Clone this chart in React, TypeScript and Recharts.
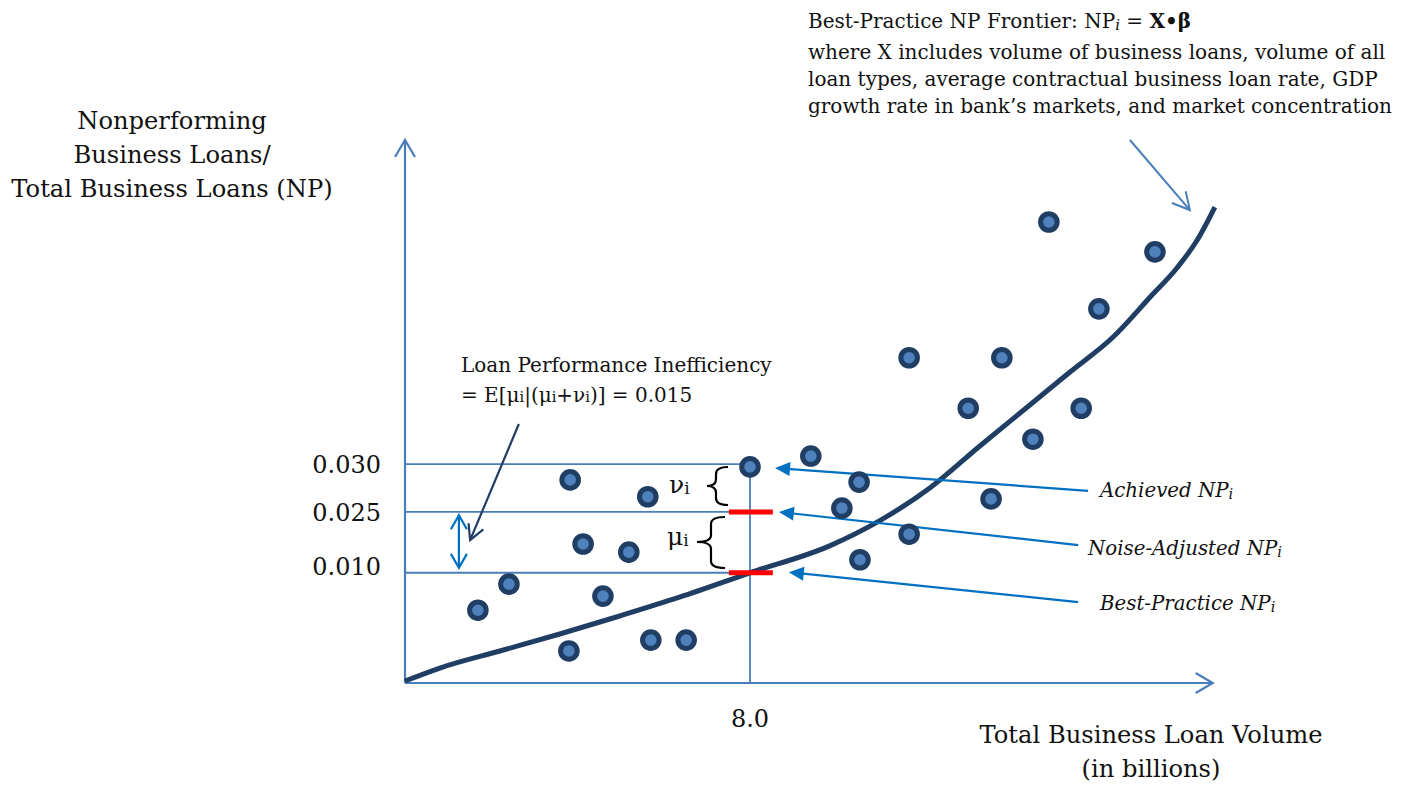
import React from "react";
import {
  ComposedChart,
  Scatter,
  Line,
  XAxis,
  YAxis,
  ReferenceLine,
} from "recharts";

// x = total business loan volume (billions); y = NP level on the schematic scale (0..100)
const bankVolume = [1.69, 2.41, 3.83, 4.13, 3.8, 4.59, 5.19, 5.63, 5.7, 6.52, 8.0, 9.41, 10.13, 10.53, 10.55, 11.69, 11.69, 13.06, 13.59, 13.84, 14.56, 14.93, 15.68, 16.09, 17.39];
const bankNP = [13.4, 18.2, 37.4, 25.6, 5.9, 16.0, 24.1, 34.3, 7.9, 7.9, 39.8, 41.8, 32.2, 37.0, 22.7, 59.9, 27.4, 50.6, 33.9, 59.9, 44.9, 84.9, 50.6, 68.9, 79.4];

const frontierVolume = [0, 0.81, 2.2, 3.59, 4.98, 6.38, 8.0, 9.86, 11.01, 12.17, 13.33, 14.49, 15.42, 16.42, 17.28, 17.9, 18.37, 18.78];
const frontierNP = [0.37, 2.76, 5.89, 9.02, 12.34, 15.84, 20.3, 25.3, 29.9, 35.91, 43.65, 51.2, 57.27, 63.72, 71.09, 76.43, 81.58, 87.66];

const npTickLevels = [40.3, 31.5, 20.3];
const npTickLabels = ["0.030", "0.025", "0.010"];
const volumeTicks = [8];

const bankData = bankVolume.map((x, i) => ({ x, np: bankNP[i] }));
const frontierData = frontierVolume.map((x, i) => ({ x, np: frontierNP[i] }));

const AXIS_BLUE = "#4a7ebb";
const ARROW_BLUE = "#0070c0";
const NAVY = "#203d63";
const FONT = "'DejaVu Serif', 'Liberation Serif', serif";

type Head = "open" | "filled";

const arrowShape =
  (head: Head, len: number, half: number, both = false) =>
  (p: any) => {
    const { x1, y1, x2, y2, stroke, strokeWidth } = p;
    const makeHead = (tx: number, ty: number, fx: number, fy: number, k: string) => {
      const a = Math.atan2(ty - fy, tx - fx);
      const bx = tx - len * Math.cos(a);
      const by = ty - len * Math.sin(a);
      const lx = bx + half * Math.sin(a);
      const ly = by - half * Math.cos(a);
      const rx = bx - half * Math.sin(a);
      const ry = by + half * Math.cos(a);
      return head === "filled" ? (
        <polygon key={k} points={`${tx},${ty} ${lx},${ly} ${rx},${ry}`} fill={stroke} />
      ) : (
        <polyline
          key={k}
          points={`${lx},${ly} ${tx},${ty} ${rx},${ry}`}
          fill="none"
          stroke={stroke}
          strokeWidth={strokeWidth}
        />
      );
    };
    const a = Math.atan2(y2 - y1, x2 - x1);
    const inset = head === "filled" ? len * 0.8 : 0;
    return (
      <g>
        <line
          x1={both && head === "filled" ? x1 + inset * Math.cos(a) : x1}
          y1={both && head === "filled" ? y1 + inset * Math.sin(a) : y1}
          x2={x2 - inset * Math.cos(a)}
          y2={y2 - inset * Math.sin(a)}
          stroke={stroke}
          strokeWidth={strokeWidth}
        />
        {makeHead(x2, y2, x1, y1, "h2")}
        {both && makeHead(x1, y1, x2, y2, "h1")}
      </g>
    );
  };

const BankDot = (props: any) => (
  <circle cx={props.cx} cy={props.cy} r={8.3} fill="#4f81bd" stroke={NAVY} strokeWidth={5} />
);

const NpTick = (props: any) => {
  const { x, y, payload } = props;
  const i = npTickLevels.indexOf(payload.value);
  return (
    <text
      x={x}
      y={y + (i === 2 ? -6 : 0)}
      dy="0.36em"
      textAnchor="end"
      fontFamily={FONT}
      fontSize={24}
      fill="#111"
    >
      {npTickLabels[i]}
    </text>
  );
};

const Brace = ({ xe, xm, xt, yt, ym, yb }: any) => {
  const r = 7;
  const d = `M${xe},${yt} Q${xm},${yt} ${xm},${yt + r} L${xm},${ym - r} Q${xm},${ym} ${xt},${ym} Q${xm},${ym} ${xm},${ym + r} L${xm},${yb - r} Q${xm},${yb} ${xe},${yb}`;
  return <path d={d} fill="none" stroke="#000" strokeWidth={2.2} />;
};

export default function App() {
  const seg = (a: number, b: number, c: number, d: number) => [
    { x: a, y: b },
    { x: c, y: d },
  ];
  return (
    <div style={{ position: "absolute", left: 0, top: 0, width: 1403, height: 785, background: "#fff" }}>
      <ComposedChart
        width={1403}
        height={785}
        margin={{ top: 140, right: 135.5, bottom: 72, left: 345 }}
      >
        <XAxis
          type="number"
          dataKey="x"
          domain={[0, 20]}
          ticks={volumeTicks}
          interval={0}
          tickFormatter={(v: number) => v.toFixed(1)}
          axisLine={false}
          tickLine={false}
          tickSize={0}
          tickMargin={27}
          height={30}
          tick={{ fontFamily: FONT, fontSize: 24, fill: "#111" }}
        />
        <YAxis
          type="number"
          domain={[0, 100]}
          ticks={npTickLevels}
          interval={0}
          axisLine={false}
          tickLine={false}
          tickSize={0}
          tickMargin={24}
          width={60}
          tick={<NpTick />}
        />

        {/* guide lines to the y ticks and the 8.0 bank */}
        <ReferenceLine segment={seg(0, npTickLevels[0], 8, npTickLevels[0])} stroke={AXIS_BLUE} strokeWidth={1.8} ifOverflow="visible" />
        <ReferenceLine segment={seg(0, npTickLevels[1], 8, npTickLevels[1])} stroke={AXIS_BLUE} strokeWidth={1.8} ifOverflow="visible" />
        <ReferenceLine segment={seg(0, npTickLevels[2], 8, npTickLevels[2])} stroke={AXIS_BLUE} strokeWidth={1.8} ifOverflow="visible" />
        <ReferenceLine segment={seg(8, 0, 8, 39.8)} stroke={AXIS_BLUE} strokeWidth={1.8} ifOverflow="visible" />

        {/* axes with arrow heads */}
        <ReferenceLine segment={seg(0, 0, 0, 100)} stroke={AXIS_BLUE} strokeWidth={2.2} ifOverflow="visible" shape={arrowShape("open", 17, 10)} />
        <ReferenceLine segment={seg(0, 0, 18.73, 0)} stroke={AXIS_BLUE} strokeWidth={2.2} ifOverflow="visible" shape={arrowShape("open", 17, 10)} />

        <Line
          data={frontierData}
          dataKey="np"
          type="monotone"
          dot={false}
          stroke={NAVY}
          strokeWidth={5}
          isAnimationActive={false}
        />
        <Scatter data={bankData} dataKey="np" shape={<BankDot />} isAnimationActive={false} />

        {/* noise-adjusted and best-practice markers */}
        <ReferenceLine segment={seg(7.51, 31.5, 8.53, 31.5)} stroke="#ff0000" strokeWidth={5} ifOverflow="visible" />
        <ReferenceLine segment={seg(7.51, 20.3, 8.53, 20.3)} stroke="#ff0000" strokeWidth={5} ifOverflow="visible" />

        {/* callout arrows */}
        <ReferenceLine segment={seg(15.84, 35.4, 8.58, 39.6)} stroke={ARROW_BLUE} strokeWidth={2.2} ifOverflow="visible" shape={arrowShape("filled", 15, 7)} />
        <ReferenceLine segment={seg(15.61, 25.4, 8.67, 31.5)} stroke={ARROW_BLUE} strokeWidth={2.2} ifOverflow="visible" shape={arrowShape("filled", 15, 7)} />
        <ReferenceLine segment={seg(15.61, 14.9, 8.9, 20.4)} stroke={ARROW_BLUE} strokeWidth={2.2} ifOverflow="visible" shape={arrowShape("filled", 15, 7)} />
        <ReferenceLine segment={seg(2.64, 47.7, 1.51, 26.3)} stroke={NAVY} strokeWidth={2.2} ifOverflow="visible" shape={arrowShape("open", 15, 8)} />
        <ReferenceLine segment={seg(1.25, 30.9, 1.25, 21.2)} stroke={ARROW_BLUE} strokeWidth={2.2} ifOverflow="visible" shape={arrowShape("open", 14, 8, true)} />
        <ReferenceLine segment={seg(16.81, 100, 18.2, 87.1)} stroke={AXIS_BLUE} strokeWidth={2} ifOverflow="visible" shape={arrowShape("open", 17, 9)} />
      </ComposedChart>

      <svg
        width={1403}
        height={785}
        style={{ position: "absolute", left: 0, top: 0, pointerEvents: "none" }}
        fontFamily={FONT}
        fill="#111"
      >
        <g fontSize={24.2} textAnchor="middle">
          <text x={172} y={129}>Nonperforming</text>
          <text x={172} y={163}>Business Loans/</text>
          <text x={172} y={197}>Total Business Loans (NP)</text>
          <text x={1151} y={743}>Total Business Loan Volume</text>
          <text x={1151} y={777}>(in billions)</text>
        </g>

        <g fontSize={20}>
          <text x={808} y={28}>
            Best-Practice NP Frontier: NP
            <tspan fontStyle="italic" fontSize={15} dy={2}>i</tspan>
            <tspan dy={-2}>{"   = "}</tspan>
            <tspan fontWeight="bold">X•β</tspan>
          </text>
          <text x={808} y={59}>where X includes volume of business loans, volume of all</text>
          <text x={808} y={86}>loan types, average contractual business loan rate, GDP</text>
          <text x={808} y={113}>growth rate in bank’s markets, and market concentration</text>
        </g>

        <g fontSize={20}>
          <text x={461} y={372}>Loan Performance Inefficiency</text>
          <text x={461} y={402}>
            = E[μ<tspan fontSize={14.5}>i</tspan>|(μ<tspan fontSize={14.5}>i</tspan>+ν
            <tspan fontSize={14.5}>i</tspan>)] = 0.015
          </text>
        </g>

        <text x={669} y={493} fontSize={25}>
          ν<tspan fontSize={17} dy={1}>i</tspan>
        </text>
        <text x={667} y={545} fontSize={25}>
          μ<tspan fontSize={17} dy={1}>i</tspan>
        </text>
        <Brace xe={728} xm={716} xt={707} yt={467} ym={486} yb={505} />
        <Brace xe={725} xm={711} xt={697} yt={517} ym={542} yb={568} />

        <g fontSize={19.8} fontStyle="italic">
          <text x={1100} y={497}>
            Achieved NP<tspan fontSize={14.5} dy={2}>i</tspan>
          </text>
          <text x={1088} y={555}>
            Noise-Adjusted NP<tspan fontSize={14.5} dy={2}>i</tspan>
          </text>
          <text x={1100} y={610}>
            Best-Practice NP<tspan fontSize={14.5} dy={2}>i</tspan>
          </text>
        </g>
      </svg>
    </div>
  );
}
